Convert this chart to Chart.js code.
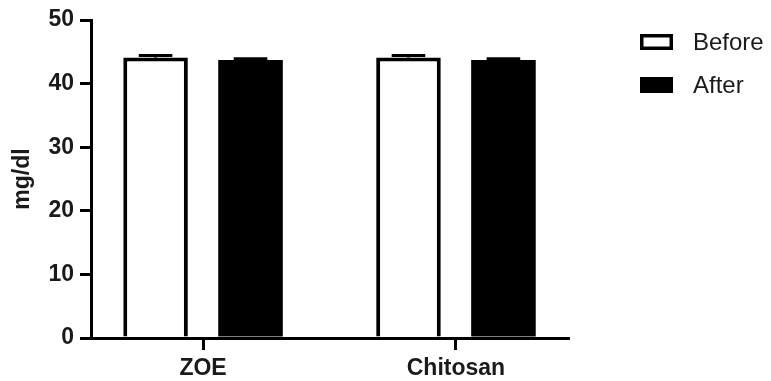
<!DOCTYPE html>
<html>
<head>
<meta charset="utf-8">
<script src="https://cdn.jsdelivr.net/npm/chart.js@4.4.1/dist/chart.umd.min.js"></script>
<style>
    body { margin: 0; background: #fff; }
    #wrap { width: 771px; height: 381px; }
</style>
</head>
<body>
<div id="wrap"><canvas id="chart" width="771" height="381"></canvas></div>
<script>
const categories = ["ZOE", "Chitosan"];
const seriesNames = ["Before", "After"];
const beforeMeans = [44.1, 44.1];
const beforeSD = [0.3, 0.3];
const afterMeans = [43.7, 43.7];
const afterSD = [0.2, 0.2];
const yTicks = [0, 10, 20, 30, 40, 50];

const fontFamily = "'Liberation Sans', Arial, Helvetica, sans-serif";

function toPoints(values) {
    return values.map((v, i) => ({ x: i, y: v }));
}

// error bars: cap at mean + SD
const errorBarPlugin = {
    id: "errorBars",
    afterDatasetsDraw(chart) {
        const { ctx, scales } = chart;
        ctx.save();
        ctx.strokeStyle = "#000";
        ctx.lineWidth = 3;
        chart.data.datasets.forEach((ds, di) => {
            const meta = chart.getDatasetMeta(di);
            meta.data.forEach((bar, i) => {
                const top = scales.y.getPixelForValue(ds.data[i].y + ds.sd[i]);
                const half = bar.width * 0.26;
                ctx.beginPath();
                ctx.moveTo(bar.x, bar.y);
                ctx.lineTo(bar.x, top);
                ctx.moveTo(bar.x - half, top);
                ctx.lineTo(bar.x + half, top);
                ctx.stroke();
            });
        });
        ctx.restore();
    }
};

// legend to the right, GraphPad style
const legendPlugin = {
    id: "sideLegend",
    afterDraw(chart) {
        const { ctx, chartArea } = chart;
        const x0 = chartArea.right + 72;
        const rows = [42, 85];
        ctx.save();
        chart.data.datasets.forEach((ds, i) => {
            const cy = rows[i];
            ctx.fillStyle = ds.backgroundColor;
            ctx.fillRect(x0, cy - 8, 33, 16);
            ctx.strokeStyle = "#000";
            ctx.lineWidth = 3.5;
            ctx.strokeRect(x0 + 1.75, cy - 6.25, 29.5, 12.5);
            ctx.fillStyle = "#1a1a1a";
            ctx.font = "24px " + fontFamily;
            ctx.textBaseline = "middle";
            ctx.fillText(ds.label, x0 + 53, cy + 1);
        });
        ctx.restore();
    }
};

new Chart(document.getElementById("chart"), {
    type: "bar",
    data: {
        datasets: [
            {
                label: seriesNames[0],
                data: toPoints(beforeMeans),
                sd: beforeSD,
                backgroundColor: "#ffffff",
                borderColor: "#000000",
                borderWidth: 4,
                categoryPercentage: 0.751,
                barPercentage: 0.68
            },
            {
                label: seriesNames[1],
                data: toPoints(afterMeans),
                sd: afterSD,
                backgroundColor: "#000000",
                borderColor: "#000000",
                borderWidth: 0,
                categoryPercentage: 0.751,
                barPercentage: 0.68
            }
        ]
    },
    options: {
        responsive: false,
        animation: false,
        layout: { padding: { top: 20, right: 203, left: 0, bottom: 0 } },
        plugins: {
            legend: { display: false },
            tooltip: { enabled: false }
        },
        scales: {
            x: {
                type: "linear",
                offset: false,
                min: -0.443,
                max: 1.443,
                afterBuildTicks(scale) {
                    scale.ticks = categories.map((c, i) => ({ value: i }));
                },
                afterFit(scale) { scale.height = 43; },
                border: { display: true, color: "#000", width: 3, z: 1 },
                grid: {
                    offset: false,
                    drawOnChartArea: false,
                    drawTicks: true,
                    tickLength: 12,
                    tickWidth: 3,
                    lineWidth: 3,
                    tickColor: "#000"
                },
                ticks: {
                    color: "#1a1a1a",
                    padding: 5,
                    font: { family: fontFamily, size: 23, weight: "bold" },
                    callback: (v) => categories[v]
                }
            },
            y: {
                min: yTicks[0],
                max: yTicks[yTicks.length - 1],
                afterBuildTicks(scale) {
                    scale.ticks = yTicks.map(v => ({ value: v }));
                },
                afterFit(scale) { scale.width = 91; },
                border: { display: true, color: "#000", width: 3 },
                grid: {
                    drawOnChartArea: false,
                    drawTicks: true,
                    tickLength: 11,
                    tickWidth: 3,
                    lineWidth: 3,
                    tickColor: "#000"
                },
                ticks: {
                    color: "#1a1a1a",
                    padding: 6,
                    font: { family: fontFamily, size: 23, weight: "bold" }
                },
                title: {
                    display: true,
                    text: "mg/dl",
                    color: "#1a1a1a",
                    padding: { top: 9, bottom: 0 },
                    font: { family: fontFamily, size: 23, weight: "bold" }
                }
            }
        }
    },
    plugins: [errorBarPlugin, legendPlugin]
});
</script>
</body>
</html>
